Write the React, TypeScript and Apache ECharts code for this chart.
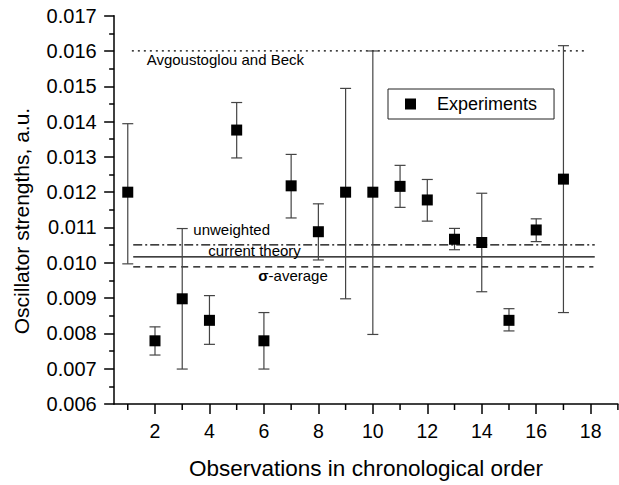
import React, { useEffect, useRef } from "react";
import * as echarts from "echarts";

// Observations (chronological index)
const observations = [1, 2, 3, 4, 5, 6, 7, 8, 9, 10, 11, 12, 13, 14, 15, 16, 17];
// Oscillator strengths (a.u.)
const strengths = [0.012, 0.00779, 0.00898, 0.00837, 0.01376, 0.00779, 0.01218, 0.01088, 0.012, 0.012, 0.012165, 0.01178, 0.010667, 0.010575, 0.00837, 0.01093, 0.01237];
const errLow = [0.00997, 0.007387, 0.00699, 0.00769, 0.01297, 0.00699, 0.01127, 0.01008, 0.00898, 0.00797, 0.01157, 0.01118, 0.01037, 0.00918, 0.00807, 0.0106, 0.00859];
const errHigh = [0.01394, 0.008185, 0.01097, 0.00907, 0.01454, 0.00859, 0.01307, 0.01167, 0.01494, 0.016, 0.01276, 0.01236, 0.010974, 0.01197, 0.0087, 0.011245, 0.01615];

// Reference lines
const refNames = ["Avgoustoglou and Beck", "unweighted", "current theory", "sigma-average"];
const refValues = [0.016, 0.01051, 0.010165, 0.009886];
const refFrom = [1.15, 1.2, 1.2, 1.2];
const refTo = [17.85, 18.15, 18.15, 18.1];
const refDash: any[] = [[2, 4], [9, 3, 2, 3], "solid", [7, 5]];

// Annotation texts anchored in data coordinates
const noteTexts = ["Avgoustoglou and Beck", "unweighted", "current theory", "{b|σ}-average"];
const noteX = [1.695, 3.407, 3.958, 5.794];
const noteY = [0.01575, 0.010955, 0.010347, 0.009633];

// Axis ranges and ticks
const xMin = 0.5;
const xMax = 19;
const yMin = 0.006;
const yMax = 0.017;
const xMajorTicks = [2, 4, 6, 8, 10, 12, 14, 16, 18];
const xMinorTicks = [1, 3, 5, 7, 9, 11, 13, 15, 17, 19];

const FONT = "'Liberation Sans', Arial, Helvetica, sans-serif";

export default function App() {
  const ref = useRef<HTMLDivElement>(null);
  useEffect(() => {
    document.body.style.margin = "0";
    const chart = echarts.init(ref.current!, null, { renderer: "svg" });
    const axisColor = "#000";
    const option: any = {
      animation: false,
      backgroundColor: "#fff",
      textStyle: { fontFamily: FONT },
      grid: { left: 114.15, right: 1.1, top: 15.67, bottom: 75, containLabel: false },
      legend: {
        data: [{ name: "Experiments", icon: "rect" }],
        left: 388,
        top: 89,
        orient: "vertical",
        itemWidth: 11,
        itemHeight: 11,
        padding: [6, 17, 6, 17],
        borderColor: "#222",
        borderWidth: 1,
        selectedMode: false,
        textStyle: { fontFamily: FONT, fontSize: 18, color: "#000", padding: [0, 0, 0, 16] },
      },
      xAxis: {
        type: "value",
        min: xMin,
        max: xMax,
        name: "Observations in chronological order",
        nameLocation: "middle",
        nameGap: 53,
        nameTextStyle: { fontFamily: FONT, fontSize: 22.5, color: "#000" },
        axisLine: { show: true, onZero: false, lineStyle: { color: axisColor, width: 1.5 } },
        axisTick: { show: true, inside: false, length: 10, customValues: xMajorTicks, lineStyle: { color: axisColor, width: 1.5 } },
        axisLabel: { show: true, customValues: xMajorTicks, margin: 17, fontFamily: FONT, fontSize: 19.5, color: "#000" },
        splitLine: { show: false },
      },
      yAxis: {
        type: "value",
        min: yMin,
        max: yMax,
        interval: 0.001,
        axisLine: { show: true, lineStyle: { color: axisColor, width: 1.5 } },
        axisTick: { show: true, inside: false, length: 10, lineStyle: { color: axisColor, width: 1.5 } },
        minorTick: { show: true, splitNumber: 2, length: 5, lineStyle: { color: axisColor, width: 1.5 } },
        axisLabel: {
          margin: 17.5,
          fontFamily: FONT,
          fontSize: 20,
          color: "#000",
          formatter: (v: number) => v.toFixed(3),
        },
        splitLine: { show: false },
      },
      graphic: [
        {
          type: "text",
          x: 21,
          y: 221,
          rotation: Math.PI / 2,
          style: {
            text: "Oscillator strengths, a.u.",
            fontFamily: FONT,
            fontSize: 21,
            fill: "#000",
            align: "center",
            verticalAlign: "middle",
          },
        },
      ],
      series: [
        ...refNames.map((n, i) => ({
          name: n,
          type: "line",
          symbol: "none",
          silent: true,
          lineStyle: { color: "#000", width: 1.2, type: refDash[i] },
          data: [
            [refFrom[i], refValues[i]],
            [refTo[i], refValues[i]],
          ],
          z: 2,
        })),
        {
          name: "minorTicks",
          type: "custom",
          silent: true,
          clip: false,
          z: 3,
          data: xMinorTicks.map((x) => [x, yMin]),
          renderItem: (params: any, api: any) => {
            const p = api.coord([api.value(0), api.value(1)]);
            return {
              type: "line",
              shape: { x1: p[0], y1: p[1], x2: p[0], y2: p[1] + 6 },
              style: { stroke: "#000", lineWidth: 1.5 },
            };
          },
        },
        {
          name: "errors",
          type: "custom",
          silent: true,
          z: 3,
          data: observations.map((x, i) => [x, errLow[i], errHigh[i]]),
          encode: { x: 0, y: [1, 2] },
          renderItem: (params: any, api: any) => {
            const x = api.value(0);
            const lo = api.coord([x, api.value(1)]);
            const hi = api.coord([x, api.value(2)]);
            const hw = 5.5;
            const st = { stroke: "#444", lineWidth: 1.2 };
            return {
              type: "group",
              children: [
                { type: "line", shape: { x1: lo[0], y1: lo[1], x2: hi[0], y2: hi[1] }, style: st },
                { type: "line", shape: { x1: hi[0] - hw, y1: hi[1], x2: hi[0] + hw, y2: hi[1] }, style: st },
                { type: "line", shape: { x1: lo[0] - hw, y1: lo[1], x2: lo[0] + hw, y2: lo[1] }, style: st },
              ],
            };
          },
        },
        {
          name: "Experiments",
          type: "scatter",
          symbol: "rect",
          symbolSize: 11,
          itemStyle: { color: "#000", opacity: 1 },
          z: 5,
          data: observations.map((x, i) => [x, strengths[i]]),
        },
        {
          name: "notes",
          type: "custom",
          silent: true,
          z: 6,
          data: noteX.map((x, i) => [x, noteY[i]]),
          renderItem: (params: any, api: any) => {
            const p = api.coord([api.value(0), api.value(1)]);
            return {
              type: "text",
              x: p[0],
              y: p[1],
              style: {
                text: noteTexts[params.dataIndex],
                fontFamily: FONT,
                fontSize: 15,
                fill: "#000",
                align: "left",
                verticalAlign: "middle",
                rich: { b: { fontFamily: FONT, fontSize: 15, fontWeight: "bold", fill: "#000" } },
              },
            };
          },
        },
      ],
    };
    chart.setOption(option);
    return () => chart.dispose();
  }, []);
  return <div ref={ref} style={{ position: "fixed", left: 0, top: 0, width: 619, height: 485 }} />;
}
